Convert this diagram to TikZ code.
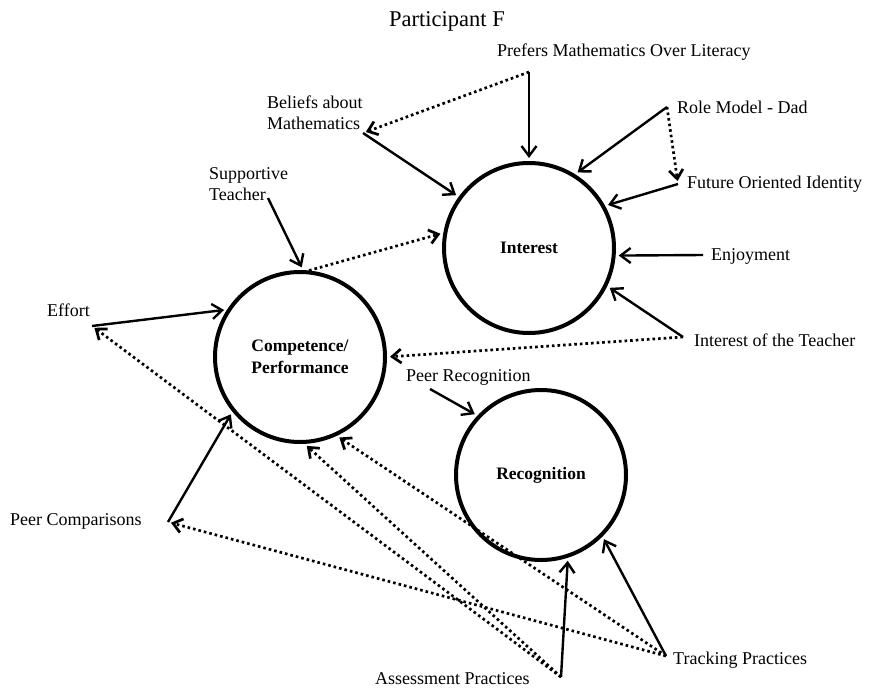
\documentclass[tikz,border=0pt]{standalone}
\usepackage{fontspec}
\setmainfont{Liberation Serif}
\usetikzlibrary{arrows.meta,positioning}

\begin{document}
\begin{tikzpicture}[x=1pt, y=-1pt,
            concept/.style={circle, draw, line width=4pt, minimum size=170pt, inner sep=0pt, align=center, font=\fontsize{17.5}{22}\selectfont\bfseries},
            lbl/.style={anchor=west, align=left, inner sep=0pt, font=\fontsize{18}{21}\selectfont},
            arrow/.style={-{Straight Barb[length=10pt,width=15pt]}, line width=2.4pt, shorten >=3pt},
            dotarrow/.style={-{Straight Barb[length=9pt,width=14pt]}, line width=2.7pt, dash pattern=on 2.6pt off 3pt, shorten >=3pt}
        ]
        \useasboundingbox (0,0) rectangle (869,690);

        % the three constructs
        \node[concept] (interest) at (529,248) {Interest};
        \node[concept] (compet) at (300,357) {Competence/\\Performance};
        \node[concept] (recog) at (541,475) {Recognition};

        \node[font=\fontsize{22.5}{26}\selectfont] (title) at (447,21) {Participant F};

        % labels
        \node[lbl] (prefers) at (497,52) {Prefers Mathematics Over Literacy};
        \node[lbl] (beliefs) at (267,113) {Beliefs about\\Mathematics};
        \node[lbl] (dad) at (677,107) {Role Model - Dad};
        \node[lbl] (future) at (687,184) {Future Oriented Identity};
        \node[lbl] (supportive) at (209,184) {Supportive\\Teacher};
        \node[lbl] (enjoy) at (711,256) {Enjoyment};
        \node[lbl] (effort) at (47,310) {Effort};
        \node[lbl] (teacherint) at (694,340) {Interest of the Teacher};
        \node[lbl] (peerrec) at (406,377) {Peer Recognition};
        \node[lbl] (peercomp) at (10,521) {Peer Comparisons};
        \node[lbl] (tracking) at (673,660) {Tracking Practices};
        \node[lbl] (assess) at (375,679) {Assessment Practices};

        % line ends next to the labels
        \coordinate (prefersPt) at (529,72);
        \coordinate (beliefsPt) at (363,133);
        \coordinate (dadPt) at (667,107);
        \coordinate (futurePt) at (678,184);
        \coordinate (enjoyPt) at (703,255);
        \coordinate (teacherPt) at (683,337);
        \coordinate (supportPt) at (268,198);
        \coordinate (effortPt) at (92,326);
        \coordinate (peercompPt) at (168,522);
        \coordinate (peerrecPt) at (430,389);
        \coordinate (assessPt) at (561,677);
        \coordinate (trackPt) at (666,656);

        \draw[arrow] (prefersPt) -- (interest.90);
        \draw[arrow] (beliefsPt) -- (interest.144);
        \draw[arrow] (dadPt) -- (interest.58);
        \draw[arrow] (futurePt) -- (interest.29);
        \draw[arrow] (enjoyPt) -- (interest.-5);
        \draw[arrow] (teacherPt) -- (interest.-26);
        \draw[arrow] (supportPt) -- (compet.88);
        \draw[arrow] (effortPt) -- (compet.147);
        \draw[arrow] (peercompPt) -- (compet.219);
        \draw[arrow] (peerrecPt) -- (recog.137);
        \draw[arrow] (assessPt) -- (recog.288);
        \draw[arrow] (trackPt) -- (recog.315);

        % dotted links
        \draw[dotarrow] (prefersPt) -- (beliefsPt);
        \draw[dotarrow] (dadPt) -- (futurePt);
        \draw[dotarrow] (compet.84) -- (interest.170);
        \draw[dotarrow] (teacherPt) -- (compet.0);
        \draw[dotarrow] (assessPt) -- (effortPt);
        \draw[dotarrow] (assessPt) -- (compet.273);
        \draw[dotarrow] (trackPt) -- (compet.295);
        \draw[dotarrow] (trackPt) -- (peercompPt);
\end{tikzpicture}
\end{document}
